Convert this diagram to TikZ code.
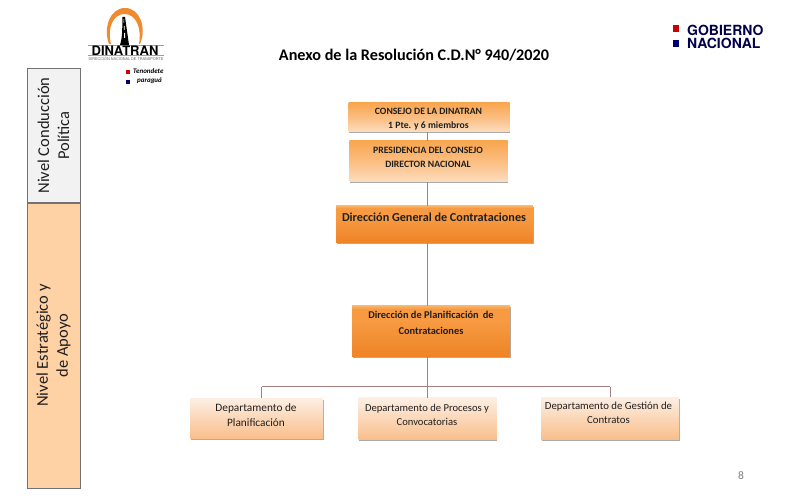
\documentclass[tikz,border=0pt]{standalone}
\usepackage{fontspec}
\setmainfont{Carlito}
\newfontfamily\heros{TeX Gyre Heros}
\usetikzlibrary{shadows,calc}
\definecolor{lineC}{HTML}{A8807F}
\definecolor{logoOr}{HTML}{F08A30}
\definecolor{txt}{HTML}{1F1F1F}
\definecolor{dTop}{HTML}{F9B264}
\definecolor{dMid}{HTML}{F79A42}
\definecolor{dBot}{HTML}{EE8426}
\definecolor{lTop}{HTML}{F9A64F}
\definecolor{lMid}{HTML}{FBBE82}
\definecolor{lBot}{HTML}{FCDDC0}
\definecolor{pTop}{HTML}{FDEFE3}
\definecolor{pBot}{HTML}{F9BF8C}
\pgfdeclareverticalshading{shDark}{100bp}{color(0bp)=(dBot); color(25bp)=(dBot); color(60bp)=(dMid); color(72bp)=(dMid); color(75bp)=(dTop); color(100bp)=(dTop)}
\pgfdeclareverticalshading{shLite}{100bp}{color(0bp)=(lBot); color(25bp)=(lBot); color(50bp)=(lMid); color(75bp)=(lTop); color(100bp)=(lTop)}
\pgfdeclareverticalshading{shPale}{100bp}{color(0bp)=(pBot); color(25bp)=(pBot); color(75bp)=(pTop); color(100bp)=(pTop)}
\tikzset{
 x=1pt,y=-1pt,
 box/.style={minimum width=#1,inner sep=0pt,drop shadow={shadow xshift=0.5pt,shadow yshift=-1.5pt,fill=black!60,opacity=.55}},
 liteBox/.style={box=#1,shade,shading=shLite},
 paleBox/.style={box=#1,shade,shading=shPale},
 darkBox/.style={box=#1,shade,shading=shDark},
 lab/.style={align=center,text=txt,inner sep=0pt},
 band/.style={draw=black!55,line width=.9pt,rotate=90,align=center,font=\fontsize{16.5}{20}\selectfont,text=txt,inner sep=0pt},
 conn/.style={draw=lineC,line width=.9pt},
}
\begin{document}
\begin{tikzpicture}
\useasboundingbox (0,0) rectangle (800,502);
\fill[white] (0,0) rectangle (800,502);
% side bands
\node[band,fill=black!5,minimum width=134.5pt,minimum height=53pt] (nc) at (53.5,135.5) {Nivel Conducción\\Política};
\node[band,fill=orange!35!white,minimum width=285pt,minimum height=53pt] (ne) at (53.5,345.5) {Nivel Estratégico y\\de Apoyo};
% title
\node[font=\fontsize{16.2}{19}\bfseries\selectfont,text=black] (title) at (414,55) {Anexo de la Resolución C.D.N° 940/2020};
% connector anchors
\coordinate (t) at (427,386.5);
\coordinate (tl) at (261.5,386.5);
\coordinate (tr) at (610,386.5);
% boxes
\node[liteBox=161pt,minimum height=29pt] (c) at (429,117.5) {};
\node[liteBox=158pt,minimum height=41pt] (p) at (428.5,161.5) {};
\node[darkBox=197pt,minimum height=37pt] (d) at (434.5,224.5) {};
\node[darkBox=158pt,minimum height=50pt] (e) at (431,331) {};
\node[paleBox=133pt,minimum height=40pt] (f) at (256.5,418) {};
\node[paleBox=138pt,minimum height=41.5pt] (g) at (427.5,418.7) {};
\node[paleBox=138pt,minimum height=42pt] (h) at (610,418) {};
% box labels
\node[lab,font=\fontsize{9.7}{14}\bfseries\selectfont] (cl) at (428.5,119) {CONSEJO DE LA DINATRAN\\1 Pte. y 6 miembros};
\node[lab,font=\fontsize{9.7}{14}\bfseries\selectfont] (pl) at (428,157) {PRESIDENCIA DEL CONSEJO\\DIRECTOR NACIONAL};
\node[lab,font=\fontsize{12.2}{15}\bfseries\selectfont] (dl) at (434,217) {Dirección General de Contrataciones};
\node[lab,font=\fontsize{10.4}{16}\bfseries\selectfont] (el) at (431,323) {Dirección de Planificación\,  de\\Contrataciones};
\node[lab,font=\fontsize{11.3}{14.5}\selectfont] (fl) at (256,415) {Departamento de\\Planificación};
\node[lab,font=\fontsize{10.6}{14}\selectfont] (gl) at (427,415) {Departamento de Procesos y\\Convocatorias};
\node[lab,font=\fontsize{10.8}{14}\selectfont] (hl) at (608.5,413) {Departamento de Gestión de\\Contratos};
% connectors
\draw[conn] (c.south -| t) -- (p.north -| t);
\draw[conn] (p.south -| t) -- (d.north -| t);
\draw[conn] (d.south -| t) -- (e.north -| t);
\draw[conn] (e.south -| t) -- (g.north -| t);
\draw[conn] (tl) -- (tr);
\draw[conn] (tl) -- (f.north -| tl);
\draw[conn] (tr) -- (h.north -| tr);
% page number
\node[font=\fontsize{11.5}{14}\selectfont,text=black!50] (n) at (741,476) {8};
% Gobierno Nacional mark
\fill[red!80!black] (672.5,25.5) rectangle (679,32);
\fill[blue!45!black] (672.5,40) rectangle (679,47);
\node[font=\heros\fontsize{14}{13}\bfseries\selectfont,text=blue!30!black,align=left,anchor=west,inner sep=0pt] (gn) at (687,36.5) {GOBIERNO\\NACIONAL};
% DINATRAN logo
\fill[logoOr] (109,44) .. controls (103,28) and (110,8) .. (125,8) .. controls (140,8) and (147,28) .. (140,44) -- (139,44) .. controls (142,28) and (136,14) .. (124.5,14) .. controls (113,14) and (107,28) .. (111,44) -- cycle;
\fill[black] (122.5,17) -- (125,17) -- (129,45) -- (120,45) .. controls (123,36) and (122,25) .. cycle;
\fill[white] (123.6,19) rectangle (124.2,23) (123.8,26) rectangle (124.6,30) (124,33) rectangle (125,38);
\draw[logoOr,line width=.5pt] (88,45.3) -- (164,45.3);
\draw[logoOr,line width=.5pt] (88,55.5) -- (164,55.5);
\node[font=\heros\fontsize{13}{13}\bfseries\selectfont,text=black,inner sep=0pt] (dn) at (125,50.5) {DINATRAN};
\node[font=\heros\fontsize{3.8}{4}\selectfont,text=black!60,inner sep=0pt] (ds) at (126,58.5) {DIRECCIÓN NACIONAL DE TRANSPORTE};
\fill[red!80!black] (126,70) rectangle (130,74);
\fill[blue!45!black] (126,80) rectangle (130,84);
\node[font=\fontsize{7}{8}\itshape\bfseries\selectfont,inner sep=0pt,anchor=west] (s1) at (133,71.5) {Tenondete};
\node[font=\fontsize{7}{8}\itshape\bfseries\selectfont,inner sep=0pt,anchor=west] (s2) at (137,81) {paraguá};
\end{tikzpicture}
\end{document}
